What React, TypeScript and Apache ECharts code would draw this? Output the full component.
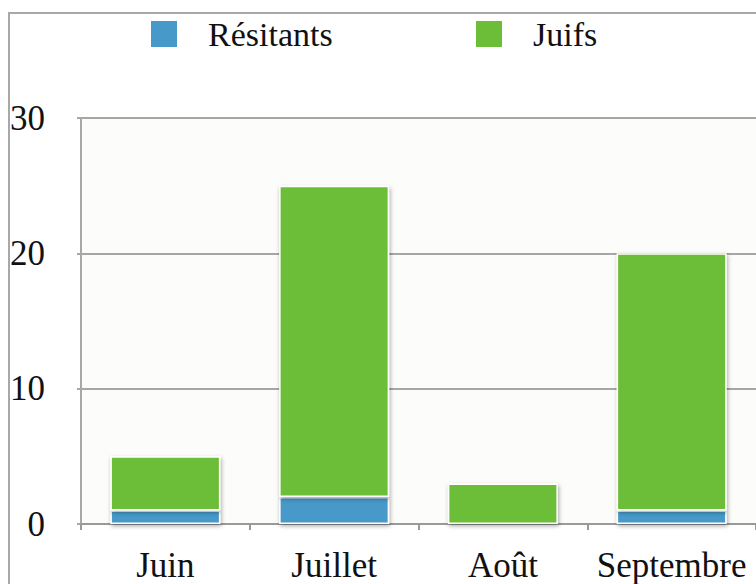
import React, { useEffect, useRef } from "react";
import * as echarts from "echarts";

const categories = ["Juin", "Juillet", "Août", "Septembre"];
const resistants = [1, 2, 0, 1];
const juifs = [4, 23, 3, 19];
const yTicks = [0, 10, 20, 30];

const FONT = "'Liberation Serif', 'DejaVu Serif', serif";

export default function App() {
  const ref = useRef<HTMLDivElement>(null);
  useEffect(() => {
    const chart = echarts.init(ref.current!, undefined, { renderer: "svg" });
    const barStyle = (color: string) => ({
      color,
      borderColor: "#ffffff",
      borderWidth: 1.5,
      shadowBlur: 4,
      shadowOffsetX: 1,
      shadowOffsetY: 2,
      shadowColor: "rgba(0,0,0,0.35)",
    });
    const legendText = { fontFamily: FONT, fontSize: 34, color: "#111111", padding: [0, 0, 0, 25] };
    chart.setOption({
      animation: false,
      backgroundColor: "#ffffff",
      graphic: [
        {
          type: "rect",
          shape: { x: 9, y: 13, width: 800, height: 640 },
          style: { fill: "none", stroke: "#a8a8a8", lineWidth: 2 },
          z: -10,
        },
      ],
      legend: [
        {
          data: ["Résitants"],
          left: 149,
          top: 17,
          padding: 0,
          itemWidth: 28,
          itemHeight: 28,
          icon: "rect",
          textStyle: legendText,
        },
        {
          data: ["Juifs"],
          left: 474,
          top: 17,
          padding: 0,
          itemWidth: 28,
          itemHeight: 28,
          icon: "rect",
          textStyle: legendText,
        },
      ],
      grid: {
        left: 81,
        top: 118,
        width: 680,
        height: 406,
        show: true,
        backgroundColor: "#fcfcfa",
        borderWidth: 0,
      },
      xAxis: {
        type: "category",
        data: categories,
        axisLine: { show: true, lineStyle: { color: "#9a9a9a", width: 2 } },
        axisTick: { show: true, length: 6, lineStyle: { color: "#9a9a9a", width: 2 } },
        axisLabel: { interval: 0, fontFamily: FONT, fontSize: 35, color: "#111111", margin: 24 },
      },
      yAxis: {
        type: "value",
        min: yTicks[0],
        max: yTicks[yTicks.length - 1],
        interval: 10,
        axisLine: { show: true, lineStyle: { color: "#a8a8a8", width: 2 } },
        axisTick: { show: true, length: 4, lineStyle: { color: "#a8a8a8", width: 2 } },
        splitLine: { show: true, lineStyle: { color: "#a6a6a6", width: 2 } },
        axisLabel: { fontFamily: FONT, fontSize: 35, color: "#111111", margin: 36 },
      },
      series: [
        {
          name: "Résitants",
          type: "bar",
          stack: "total",
          data: resistants,
          barWidth: 110,
          itemStyle: barStyle("#4699c9"),
        },
        {
          name: "Juifs",
          type: "bar",
          stack: "total",
          data: juifs,
          barWidth: 110,
          itemStyle: barStyle("#6cbe39"),
        },
      ],
    });
    return () => chart.dispose();
  }, []);
  return (
    <div
      ref={ref}
      style={{ position: "fixed", left: 0, top: 0, width: 756, height: 584 }}
    />
  );
}
